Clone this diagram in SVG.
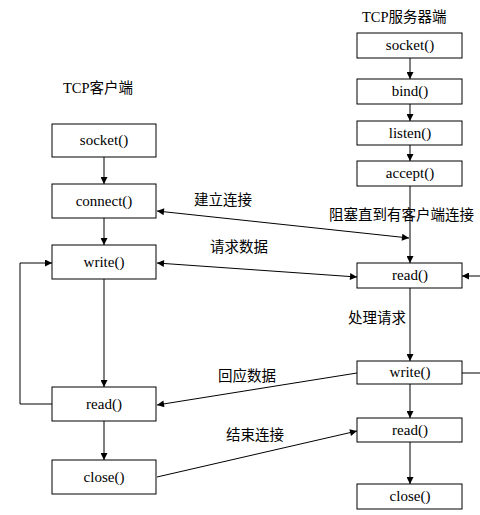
<svg xmlns="http://www.w3.org/2000/svg" width="480" height="515" viewBox="0 0 480 515">
<defs>
<marker id="ah" viewBox="0 0 10 10" refX="10" refY="5" markerWidth="9" markerHeight="7" markerUnits="userSpaceOnUse" orient="auto-start-reverse">
<path d="M0,0 L10,5 L0,10 z" fill="#000"/>
</marker>
<style>
.box{fill:#fff;stroke:#000;stroke-width:1}
.bt{font-family:"Liberation Serif",serif;font-size:15px;text-anchor:middle;fill:#000}
.lb{font-family:"Noto Sans CJK SC",sans-serif;font-size:14.5px;fill:#000}
.ttl{font-family:"Liberation Serif","Noto Sans CJK SC",serif;font-size:14.5px;fill:#000}
.ln{stroke:#000;stroke-width:1;fill:none}
.ar{stroke:#000;stroke-width:1;fill:none;marker-end:url(#ah)}
.dar{stroke:#000;stroke-width:1;fill:none;marker-end:url(#ah);marker-start:url(#ah)}
</style>
</defs>
<rect width="480" height="515" fill="#fff"/>
<text class="ttl" x="362" y="22">TCP<tspan font-family="Noto Sans CJK SC, sans-serif">服务器端</tspan></text>
<text class="ttl" x="63" y="93">TCP<tspan font-family="Noto Sans CJK SC, sans-serif">客户端</tspan></text>

<g id="connectors">
<line class="ar" x1="104" y1="157" x2="104" y2="184"/>
<line class="ar" x1="104" y1="218" x2="104" y2="245"/>
<line class="ar" x1="104" y1="279" x2="104" y2="387"/>
<line class="ar" x1="104" y1="421" x2="104" y2="460"/>
<line class="ar" x1="410" y1="58" x2="410" y2="79"/>
<line class="ar" x1="410" y1="104" x2="410" y2="121"/>
<line class="ar" x1="410" y1="145" x2="410" y2="161"/>
<line class="ar" x1="410" y1="186" x2="410" y2="263"/>
<line class="ar" x1="410" y1="288" x2="410" y2="361"/>
<line class="ar" x1="410" y1="384" x2="410" y2="418"/>
<line class="ar" x1="410" y1="442" x2="410" y2="484"/>
<line class="dar" x1="157" y1="211" x2="409" y2="238"/>
<line class="dar" x1="157" y1="263" x2="357" y2="277"/>
<line class="ar" x1="357" y1="373" x2="157" y2="405"/>
<line class="ar" x1="157" y1="477" x2="357" y2="431"/>
<polyline class="ar" points="52,404 20,404 20,263 52,263"/>
<line class="ln" x1="462" y1="373" x2="480" y2="373"/>
<line class="ar" x1="480" y1="276" x2="462" y2="276"/>
</g>

<g id="c_socket"><rect class="box" x="52" y="124" width="104" height="33"/><text class="bt" x="104" y="145">socket()</text></g>
<g id="c_connect"><rect class="box" x="52" y="184" width="104" height="34"/><text class="bt" x="104" y="206">connect()</text></g>
<g id="c_write"><rect class="box" x="52" y="245" width="104" height="34"/><text class="bt" x="104" y="267">write()</text></g>
<g id="c_read"><rect class="box" x="52" y="387" width="104" height="34"/><text class="bt" x="104" y="409">read()</text></g>
<g id="c_close"><rect class="box" x="52" y="460" width="104" height="34"/><text class="bt" x="104" y="482">close()</text></g>

<g id="s_socket"><rect class="box" x="357" y="33" width="105" height="25"/><text class="bt" x="410" y="50">socket()</text></g>
<g id="s_bind"><rect class="box" x="357" y="79" width="105" height="25"/><text class="bt" x="410" y="96">bind()</text></g>
<g id="s_listen"><rect class="box" x="357" y="121" width="105" height="24"/><text class="bt" x="410" y="138">listen()</text></g>
<g id="s_accept"><rect class="box" x="357" y="161" width="105" height="25"/><text class="bt" x="410" y="178">accept()</text></g>
<g id="s_read"><rect class="box" x="357" y="263" width="105" height="25"/><text class="bt" x="410" y="280">read()</text></g>
<g id="s_write"><rect class="box" x="357" y="361" width="105" height="23"/><text class="bt" x="410" y="377">write()</text></g>
<g id="s_read2"><rect class="box" x="357" y="418" width="105" height="24"/><text class="bt" x="410" y="435">read()</text></g>
<g id="s_close"><rect class="box" x="357" y="484" width="105" height="25"/><text class="bt" x="410" y="501">close()</text></g>

<text class="lb" x="194" y="205">建立连接</text>
<text class="lb" x="329" y="220">阻塞直到有客户端连接</text>
<text class="lb" x="210" y="252">请求数据</text>
<text class="lb" x="348" y="323">处理请求</text>
<text class="lb" x="218" y="381">回应数据</text>
<text class="lb" x="226" y="440">结束连接</text>
</svg>
